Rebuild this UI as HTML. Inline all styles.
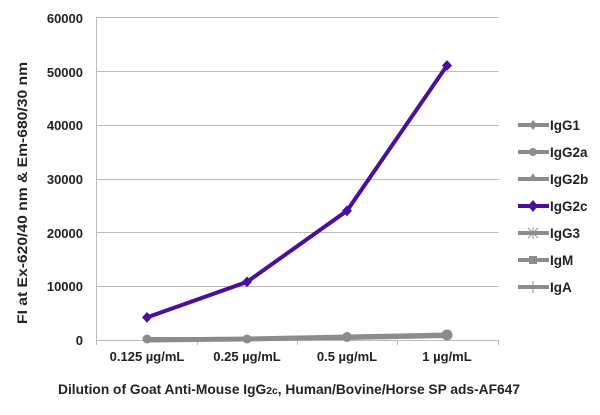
<!DOCTYPE html>
<html><head><style>
body{margin:0;background:#fff;}
text{font-family:"Liberation Sans",sans-serif;font-weight:bold;fill:#222;}
</style></head><body>
<svg width="600" height="410" viewBox="0 0 600 410" xmlns="http://www.w3.org/2000/svg">
<g stroke="#bdbdbd" stroke-width="1">
<line x1="97" y1="17.5" x2="499" y2="17.5"/>
<line x1="97" y1="71.5" x2="499" y2="71.5"/>
<line x1="97" y1="125.5" x2="499" y2="125.5"/>
<line x1="97" y1="179.5" x2="499" y2="179.5"/>
<line x1="97" y1="232.5" x2="499" y2="232.5"/>
<line x1="97" y1="286.5" x2="499" y2="286.5"/>
<line x1="97" y1="340.5" x2="499" y2="340.5"/>
<line x1="96.5" y1="17" x2="96.5" y2="345"/>
<line x1="197.5" y1="340" x2="197.5" y2="345"/>
<line x1="297.5" y1="340" x2="297.5" y2="345"/>
<line x1="397.5" y1="340" x2="397.5" y2="345"/>
<line x1="498.5" y1="340" x2="498.5" y2="345"/>
</g>
<g font-size="13" text-anchor="end">
<text x="83" y="23">60000</text>
<text x="83" y="77">50000</text>
<text x="83" y="130">40000</text>
<text x="83" y="184">30000</text>
<text x="83" y="238">20000</text>
<text x="83" y="291">10000</text>
<text x="83" y="345">0</text>
</g>
<g font-size="13" text-anchor="middle">
<text x="147" y="361">0.125 µg/mL</text>
<text x="247" y="361">0.25 µg/mL</text>
<text x="347" y="361">0.5 µg/mL</text>
<text x="447" y="361">1 µg/mL</text>
</g>
<text x="289" y="394" font-size="14" text-anchor="middle" textLength="462" lengthAdjust="spacingAndGlyphs">Dilution of Goat Anti-Mouse IgG<tspan font-size="10.5">2c</tspan>, Human/Bovine/Horse SP ads-AF647</text>
<text transform="translate(27,193) rotate(-90)" font-size="14" text-anchor="middle" textLength="262" lengthAdjust="spacingAndGlyphs">FI at Ex-620/40 nm &amp; Em-680/30 nm</text>
<polyline points="147,340 247,339 347,337 447,335" fill="none" stroke="#8c8c8c" stroke-width="5"/>
<polyline points="147,339 247,339 347,338 447,336" fill="none" stroke="#8c8c8c" stroke-width="4"/>
<g fill="#8c8c8c">
<circle cx="147" cy="339" r="4.5"/><circle cx="247" cy="339" r="4.5"/><circle cx="347" cy="337" r="5"/><circle cx="447" cy="335" r="5.5"/>
</g>
<polyline points="147,317.4 247,281.9 347,210.8 447,65.5" fill="none" stroke="#4b0fa0" stroke-width="4"/>
<g fill="#4b0fa0">
<path d="M147,312l5,5.4-5,5.4-5-5.4z"/>
<path d="M247,276.5l5,5.4-5,5.4-5-5.4z"/>
<path d="M347,205.4l5,5.4-5,5.4-5-5.4z"/>
<path d="M447,60.1l5,5.4-5,5.4-5-5.4z"/>
</g>
<g stroke-width="4">
<line x1="518" y1="125" x2="549" y2="125" stroke="#8c8c8c"/>
<line x1="518" y1="152" x2="549" y2="152" stroke="#8c8c8c"/>
<line x1="518" y1="179" x2="549" y2="179" stroke="#8c8c8c"/>
<line x1="518" y1="206" x2="549" y2="206" stroke="#4b0fa0"/>
<line x1="518" y1="233" x2="549" y2="233" stroke="#8c8c8c"/>
<line x1="518" y1="260" x2="549" y2="260" stroke="#8c8c8c"/>
<line x1="518" y1="287" x2="549" y2="287" stroke="#8c8c8c"/>
</g>
<path d="M533,120l4,5-4,5-4-5z" fill="#8c8c8c"/>
<circle cx="533" cy="152" r="4" fill="#8c8c8c"/>
<path d="M533,173l5,8h-10z" fill="#8c8c8c"/>
<path d="M533,200l5,6-5,6-5-6z" fill="#4b0fa0"/>
<path d="M528,228l10,10M538,228l-10,10M533,227v12" stroke="#8c8c8c" stroke-width="1"/>
<rect x="529" y="256" width="8" height="8" fill="#8c8c8c"/>
<line x1="533" y1="281" x2="533" y2="293" stroke="#8c8c8c" stroke-width="1"/>
<g font-size="13.5">
<text x="550" y="130">IgG1</text>
<text x="550" y="157">IgG2a</text>
<text x="550" y="184">IgG2b</text>
<text x="550" y="211">IgG2c</text>
<text x="550" y="238">IgG3</text>
<text x="550" y="265">IgM</text>
<text x="550" y="292">IgA</text>
</g>
</svg>
</body></html>
